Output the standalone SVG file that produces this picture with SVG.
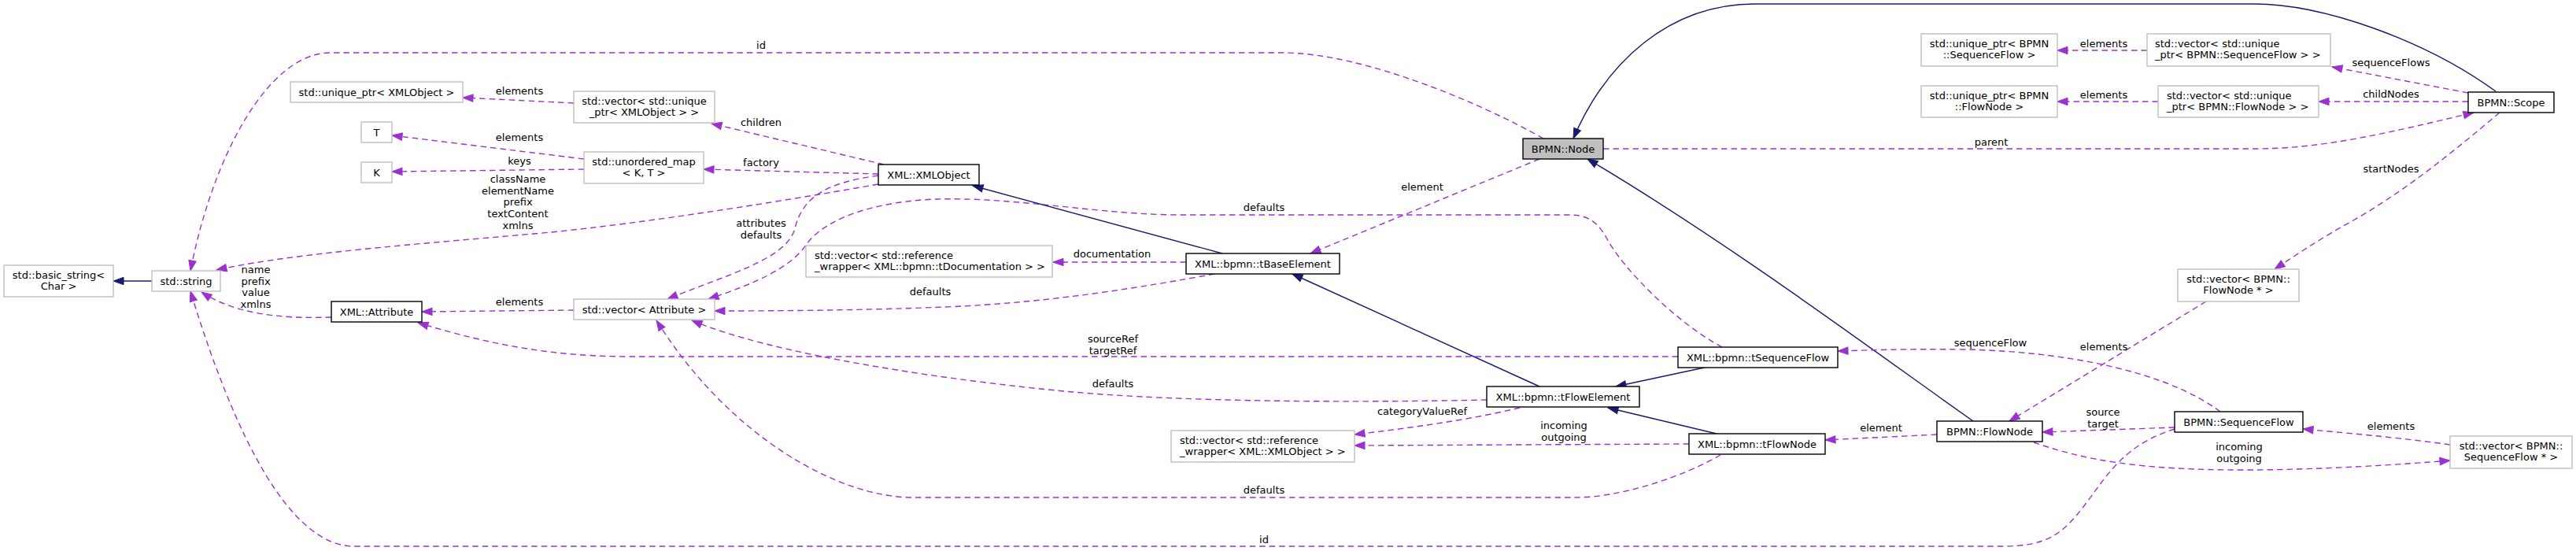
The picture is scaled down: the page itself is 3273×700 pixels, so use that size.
<svg xmlns="http://www.w3.org/2000/svg" width="3273" height="700" viewBox="0 0 3273 700">
<style>
text{font-family:"DejaVu Sans","Liberation Sans",sans-serif;font-size:13px;fill:#000}
.c{text-anchor:middle}
.l{text-anchor:start}
.doc{fill:#fff;stroke:#000;stroke-width:1.4}
.ext{fill:#fff;stroke:#bfbfbf;stroke-width:1.4}
.focus{fill:#bfbfbf;stroke:#000;stroke-width:1.4}
.use{fill:none;stroke:#9a32cd;stroke-width:1.4;stroke-dasharray:7.5,5;marker-end:url(#pa)}
.inh{fill:none;stroke:#191970;stroke-width:1.4;marker-end:url(#na)}
</style>
<defs>
<marker id="pa" markerUnits="userSpaceOnUse" markerWidth="16" markerHeight="12" viewBox="0 -6 14 12" refX="13" refY="0" orient="auto"><path d="M0,-4.7 L13,0 L0,4.7 Z" fill="#9a32cd" stroke="#9a32cd"/></marker>
<marker id="na" markerUnits="userSpaceOnUse" markerWidth="16" markerHeight="12" viewBox="0 -6 14 12" refX="13" refY="0" orient="auto"><path d="M0,-4.7 L13,0 L0,4.7 Z" fill="#191970" stroke="#191970"/></marker>
</defs>
<rect width="3273" height="700" fill="#fff"/>
<g id="connectors">
<path class="inh" d="M193,357 L144,357"/>
<path class="use" d="M1961,176 C1880,130 1730,67 1630,67 L420,67 C340,67 270,200 242,344"/>
<path class="use" d="M1116,234 C980,258 820,283 700,295 C560,308 380,320 275,343"/>
<path class="use" d="M421,403 C360,405 300,400 256,371"/>
<path class="use" d="M2763,545 C2700,565 2680,600 2650,640 C2620,680 2600,694 2543,694 L450,694 C370,694 300,560 242,370"/>
<path class="use" d="M729,131 L588,124"/>
<path class="use" d="M742,202 L498,172"/>
<path class="use" d="M742,215 L498,218"/>
<path class="use" d="M1123,209 L904,157"/>
<path class="use" d="M1116,221 L894,215"/>
<path class="use" d="M1116,223 C1050,232 1020,250 1010,290 C1000,330 920,350 848,380"/>
<path class="use" d="M2188,441 C2130,410 2060,340 2040,300 C2025,275 2010,273 1990,273 L1500,273 C1400,273 1290,250 1190,253 C1120,255 1050,275 1025,310 C1005,340 960,360 900,380"/>
<path class="use" d="M1543,348 C1450,365 1330,385 1200,390 C1100,394 1000,395 908,395"/>
<path class="use" d="M1889,508 C1700,512 1500,510 1363,498 C1200,483 980,450 879,407"/>
<path class="use" d="M2186,578 C2140,605 2060,632 2002,632 L1159,632 C1070,632 930,560 834,407"/>
<path class="use" d="M729,394 L536,396"/>
<path class="use" d="M2132,453 L800,453 C700,453 620,437 531,410"/>
<path class="use" d="M1507,333 L1338,333"/>
<path class="use" d="M1956,202 L1665,322"/>
<path class="inh" d="M1553,322 L1236,236"/>
<path class="inh" d="M1956,491 L1642,348"/>
<path class="inh" d="M2170,466 L2053,491"/>
<path class="inh" d="M2181,551 L2043,518"/>
<path class="use" d="M1931,518 C1860,535 1780,545 1721,552"/>
<path class="use" d="M2146,564 L1721,566"/>
<path class="use" d="M2461,552 L2319,559"/>
<path class="inh" d="M2507,535 C2400,460 2200,310 2017,202"/>
<path class="inh" d="M3171,116 C3080,50 2950,5 2864,5 L2230,5 C2120,5 2040,80 1999,176"/>
<path class="use" d="M2037,189 L2864,189 C2950,189 3030,170 3143,143"/>
<path class="use" d="M2728,64 L2614,64"/>
<path class="use" d="M2742,129 L2614,129"/>
<path class="use" d="M3136,118 L2963,85"/>
<path class="use" d="M3136,129 L2946,129"/>
<path class="use" d="M3176,143 C3120,190 3060,240 2990,280 C2950,302 2920,322 2890,342"/>
<path class="use" d="M2803,383 L2553,535"/>
<path class="use" d="M2821,523 C2750,470 2620,447 2500,444 C2420,443 2370,445 2335,446"/>
<path class="use" d="M2763,543 L2595,549"/>
<path class="use" d="M3113,565 C3050,556 2980,550 2926,545"/>
<path class="use" d="M2584,562 C2650,585 2720,597 2850,597 C2950,597 3050,590 3113,585"/>
</g>
<g id="edge-labels">
<text class="c" x="967" y="62">id</text>
<text class="c" x="660" y="120">elements</text>
<text class="c" x="660" y="179">elements</text>
<text class="c" x="660" y="209">keys</text>
<text class="c" x="658" y="232">className</text>
<text class="c" x="658" y="246.7">elementName</text>
<text class="c" x="658" y="261.4">prefix</text>
<text class="c" x="658" y="276.1">textContent</text>
<text class="c" x="658" y="290.8">xmlns</text>
<text class="c" x="325" y="347">name</text>
<text class="c" x="325" y="361.7">prefix</text>
<text class="c" x="325" y="376.4">value</text>
<text class="c" x="325" y="391.1">xmlns</text>
<text class="c" x="660" y="388">elements</text>
<text class="c" x="967" y="160">children</text>
<text class="c" x="967" y="211">factory</text>
<text class="c" x="967" y="288">attributes</text>
<text class="c" x="967" y="302.7">defaults</text>
<text class="c" x="1413" y="327">documentation</text>
<text class="c" x="1182" y="375">defaults</text>
<text class="c" x="1414" y="435">sourceRef</text>
<text class="c" x="1414" y="449.7">targetRef</text>
<text class="c" x="1414" y="492">defaults</text>
<text class="c" x="1606" y="268">defaults</text>
<text class="c" x="1807" y="242">element</text>
<text class="c" x="1807" y="527">categoryValueRef</text>
<text class="c" x="1987" y="545">incoming</text>
<text class="c" x="1987" y="559.7">outgoing</text>
<text class="c" x="1606" y="627">defaults</text>
<text class="c" x="1606" y="690">id</text>
<text class="c" x="2390" y="548">element</text>
<text class="c" x="2529" y="440">sequenceFlow</text>
<text class="c" x="2673" y="445">elements</text>
<text class="c" x="2672" y="528">source</text>
<text class="c" x="2672" y="542.7">target</text>
<text class="c" x="2845" y="572">incoming</text>
<text class="c" x="2845" y="586.7">outgoing</text>
<text class="c" x="2530" y="185">parent</text>
<text class="c" x="2673" y="60">elements</text>
<text class="c" x="2673" y="125">elements</text>
<text class="c" x="3038" y="84">sequenceFlows</text>
<text class="c" x="3038" y="124">childNodes</text>
<text class="c" x="3038" y="219">startNodes</text>
<text class="c" x="3038" y="546">elements</text>
</g>
<g id="n-basic-string"><rect class="ext" x="5" y="337" width="139" height="40"/><text class="c" x="74.5" y="353.5">std::basic_string&lt;</text><text class="c" x="74.5" y="368">Char &gt;</text></g>
<g id="n-string"><rect class="ext" x="193" y="344" width="87" height="26"/><text class="c" x="236.5" y="361.5">std::string</text></g>
<g id="n-unique-xmlobject"><rect class="ext" x="369" y="104" width="219" height="26"/><text class="c" x="478.5" y="121.5">std::unique_ptr&lt; XMLObject &gt;</text></g>
<g id="n-T"><rect class="ext" x="459" y="155" width="39" height="26"/><text class="c" x="478.5" y="172.5">T</text></g>
<g id="n-K"><rect class="ext" x="459" y="206" width="39" height="26"/><text class="c" x="478.5" y="223.5">K</text></g>
<g id="n-attribute"><rect class="doc" x="421" y="383" width="115" height="26"/><text class="c" x="478.5" y="400.5">XML::Attribute</text></g>
<g id="n-vec-unique-xmlobject"><rect class="ext" x="729" y="116" width="179" height="40"/><text class="c" x="818.5" y="132.5">std::vector&lt; std::unique</text><text class="c" x="818.5" y="147">_ptr&lt; XMLObject &gt; &gt;</text></g>
<g id="n-unordered-map"><rect class="ext" x="742" y="193" width="152" height="40"/><text class="c" x="818" y="209.5">std::unordered_map</text><text class="c" x="818" y="224">&lt; K, T &gt;</text></g>
<g id="n-vec-attribute"><rect class="ext" x="729" y="380" width="179" height="26"/><text class="c" x="818.5" y="397.5">std::vector&lt; Attribute &gt;</text></g>
<g id="n-xmlobject"><rect class="doc" x="1116" y="209" width="128" height="26"/><text class="c" x="1180" y="226.5">XML::XMLObject</text></g>
<g id="n-vec-ref-doc"><rect class="ext" x="1024" y="312" width="313" height="40"/><text class="l" x="1035" y="328.5">std::vector&lt; std::reference</text><text class="l" x="1035" y="343">_wrapper&lt; XML::bpmn::tDocumentation &gt; &gt;</text></g>
<g id="n-tbaseelement"><rect class="doc" x="1507" y="322" width="195" height="26"/><text class="c" x="1604.5" y="339.5">XML::bpmn::tBaseElement</text></g>
<g id="n-node"><rect class="focus" x="1935" y="176" width="102" height="26"/><text class="c" x="1986" y="193.5">BPMN::Node</text></g>
<g id="n-tsequenceflow"><rect class="doc" x="2132" y="441" width="203" height="26"/><text class="c" x="2233.5" y="458.5">XML::bpmn::tSequenceFlow</text></g>
<g id="n-tflowelement"><rect class="doc" x="1889" y="491" width="194" height="26"/><text class="c" x="1986" y="508.5">XML::bpmn::tFlowElement</text></g>
<g id="n-vec-ref-xmlobject"><rect class="ext" x="1488" y="547" width="233" height="40"/><text class="l" x="1499" y="563.5">std::vector&lt; std::reference</text><text class="l" x="1499" y="578">_wrapper&lt; XML::XMLObject &gt; &gt;</text></g>
<g id="n-tflownode"><rect class="doc" x="2146" y="551" width="173" height="26"/><text class="c" x="2232.5" y="568.5">XML::bpmn::tFlowNode</text></g>
<g id="n-flownode"><rect class="doc" x="2461" y="535" width="134" height="26"/><text class="c" x="2528" y="552.5">BPMN::FlowNode</text></g>
<g id="n-sequenceflow"><rect class="doc" x="2763" y="523" width="163" height="26"/><text class="c" x="2844.5" y="540.5">BPMN::SequenceFlow</text></g>
<g id="n-unique-seqflow"><rect class="ext" x="2441" y="43" width="173" height="41"/><text class="c" x="2527.5" y="59.5">std::unique_ptr&lt; BPMN</text><text class="c" x="2527.5" y="74">::SequenceFlow &gt;</text></g>
<g id="n-vec-unique-seqflow"><rect class="ext" x="2728" y="43" width="233" height="41"/><text class="l" x="2738" y="59.5">std::vector&lt; std::unique</text><text class="l" x="2738" y="74">_ptr&lt; BPMN::SequenceFlow &gt; &gt;</text></g>
<g id="n-unique-flownode"><rect class="ext" x="2441" y="109" width="173" height="40"/><text class="c" x="2527.5" y="125.5">std::unique_ptr&lt; BPMN</text><text class="c" x="2527.5" y="140">::FlowNode &gt;</text></g>
<g id="n-vec-unique-flownode"><rect class="ext" x="2742" y="109" width="204" height="40"/><text class="l" x="2753" y="125.5">std::vector&lt; std::unique</text><text class="l" x="2753" y="140">_ptr&lt; BPMN::FlowNode &gt; &gt;</text></g>
<g id="n-scope"><rect class="doc" x="3136" y="117" width="109" height="26"/><text class="c" x="3190.5" y="134.5">BPMN::Scope</text></g>
<g id="n-vec-flownode-ptr"><rect class="ext" x="2767" y="342" width="154" height="41"/><text class="c" x="2844" y="358.5">std::vector&lt; BPMN::</text><text class="c" x="2844" y="373">FlowNode * &gt;</text></g>
<g id="n-vec-seqflow-ptr"><rect class="ext" x="3113" y="554" width="155" height="41"/><text class="c" x="3190.5" y="570.5">std::vector&lt; BPMN::</text><text class="c" x="3190.5" y="585">SequenceFlow * &gt;</text></g>
</svg>
